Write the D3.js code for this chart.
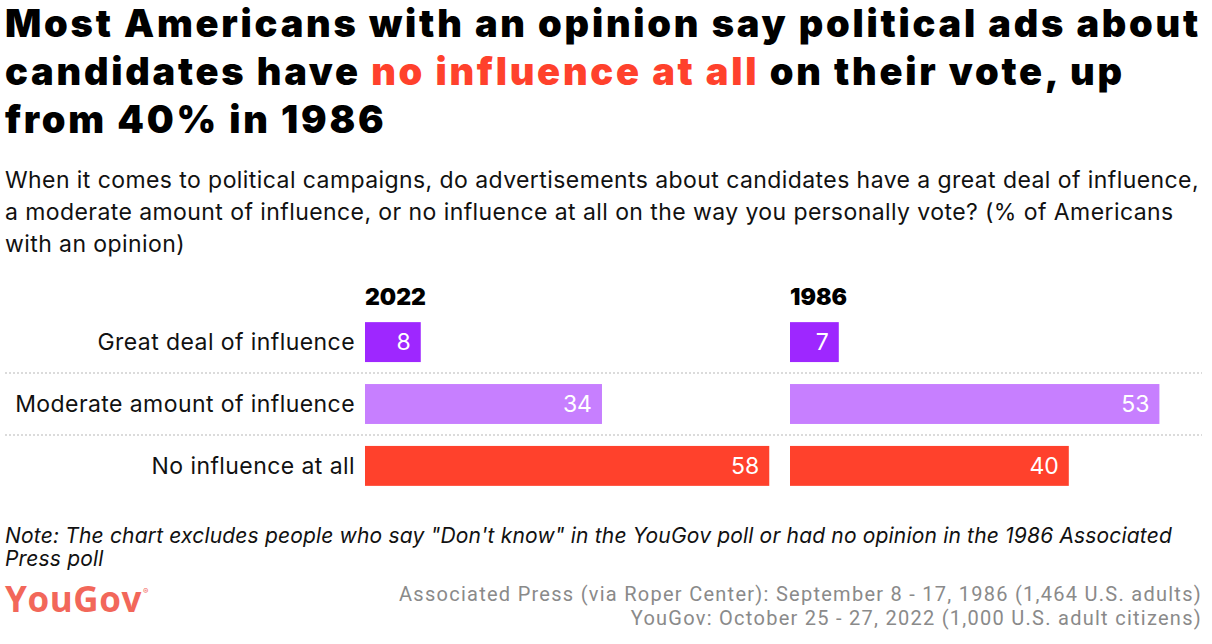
<!DOCTYPE html>
<html><head><meta charset="utf-8">
<script src="https://cdn.jsdelivr.net/npm/d3@7"></script>
<style>body{margin:0;background:#fff}</style>
</head><body>
<svg id="c" width="1212" height="644"></svg>
<script>
const categories = ["Great deal of influence", "Moderate amount of influence", "No influence at all"];
const panels = ["2022", "1986"];
const values2022 = [8, 34, 58];
const values1986 = [7, 53, 40];
const colors = ["#9e27ff", "#c77fff", "#ff412c"];

const svg = d3.select("#c");
const F = "Inter, 'Noto Sans', sans-serif";

// set letter-spacing so that a text element spans a target width
function fitSpacing(sel, target) {
  const node = sel.node();
  const w = node.getComputedTextLength();
  const n = node.textContent.length;
  const ls = (target - w) / Math.max(1, n);
  sel.attr("letter-spacing", ls);
  return ls;
}

// Title
const title = svg.append("g").attr("font-family", F).attr("font-weight", 900).attr("font-size", 38).attr("fill", "#000");
const t1 = title.append("text").attr("x", 5).attr("y", 37).text("Most Americans with an opinion say political ads about");
const t2 = title.append("text").attr("x", 5).attr("y", 85);
t2.append("tspan").text("candidates have ");
t2.append("tspan").attr("fill", "#ff412c").text("no influence at all");
t2.append("tspan").text(" on their vote, up");
const t3 = title.append("text").attr("x", 5).attr("y", 133).text("from 40% in 1986");
const tls = fitSpacing(t1, 1196);
t2.attr("letter-spacing", tls); t3.attr("letter-spacing", tls);

// Subtitle
const sub = svg.append("g").attr("font-family", F).attr("font-size", 23).attr("fill", "#111");
const subs = ["When it comes to political campaigns, do advertisements about candidates have a great deal of influence,",
 "a moderate amount of influence, or no influence at all on the way you personally vote? (% of Americans",
 "with an opinion)"].map((s, i) => sub.append("text").attr("x", 5).attr("y", 188 + i * 32).text(s));
const sls = fitSpacing(subs[0], 1194);
subs.slice(1).forEach(s => s.attr("letter-spacing", sls));

// Chart
const y = d3.scaleBand().domain(categories).range([311, 497]).paddingInner(0.355).paddingOuter(0.18);
const panelX = d3.scaleOrdinal().domain(panels).range([365, 790]);
const x = d3.scaleLinear().domain([0, 100]).range([0, 697]);
const data = {"2022": values2022, "1986": values1986};

// separators
categories.slice(1).forEach(c => {
  const yy = y(c) - y.step() * y.paddingInner() / 2;
  svg.append("line").attr("x1", 5).attr("x2", 1202).attr("y1", yy).attr("y2", yy)
    .attr("stroke", "#cfcfcf").attr("stroke-width", 1.5).attr("stroke-dasharray", "2,2");
});

// category labels
svg.append("g").attr("font-family", F).attr("font-size", 23).attr("fill", "#111").attr("text-anchor", "end")
  .attr("letter-spacing", sls)
  .selectAll("text").data(categories).join("text")
  .attr("x", 355).attr("y", d => y(d) + y.bandwidth() / 2).attr("dy", "0.36em").text(d => d);

panels.forEach(p => {
  const g = svg.append("g").attr("transform", `translate(${panelX(p)},0)`);
  g.append("text").attr("x", 0).attr("y", 305).attr("font-family", F).attr("font-weight", 900)
    .attr("font-size", 23).attr("fill", "#000").text(p);
  const vals = data[p];
  g.selectAll("rect").data(categories).join("rect")
    .attr("x", 0).attr("y", d => y(d)).attr("height", y.bandwidth())
    .attr("width", (d, i) => x(vals[i])).attr("fill", (d, i) => colors[i]);
  g.selectAll("text.v").data(categories).join("text").attr("class", "v")
    .attr("x", (d, i) => x(vals[i]) - 10).attr("y", d => y(d) + y.bandwidth() / 2).attr("dy", "0.36em")
    .attr("text-anchor", "end").attr("font-family", F).attr("font-size", 23).attr("fill", "#fff")
    .text((d, i) => vals[i]);
});

// Note
const note = svg.append("g").attr("font-family", F).attr("font-style", "italic").attr("font-size", 21).attr("fill", "#111");
const n1 = note.append("text").attr("x", 5).attr("y", 543).text("Note: The chart excludes people who say \"Don't know\" in the YouGov poll or had no opinion in the 1986 Associated");
const n2 = note.append("text").attr("x", 5).attr("y", 566).text("Press poll");
const nls = fitSpacing(n1, 1167);
n2.attr("letter-spacing", nls);

// Logo
const logo = svg.append("text").attr("x", 5).attr("y", 612).attr("font-family", "'Open Sans', sans-serif").attr("font-weight", 700)
  .attr("font-size", 35).attr("fill", "#f2675a").text("YouGov");
fitSpacing(logo, 137);
const logoEnd = 5 + logo.node().getBBox().width;
svg.append("text").attr("x", logoEnd + 1).attr("y", 594).attr("font-family", F).attr("font-size", 8).attr("fill", "#f2675a").text("®");

// Sources
const src = svg.append("g").attr("font-family", "Roboto, sans-serif").attr("font-size", 20).attr("fill", "#8a8a8a").attr("text-anchor", "end");
const s1 = src.append("text").attr("x", 1202).attr("y", 601).text("Associated Press (via Roper Center): September 8 - 17, 1986 (1,464 U.S. adults)");
const s2 = src.append("text").attr("x", 1202).attr("y", 625).text("YouGov: October 25 - 27, 2022 (1,000 U.S. adult citizens)");
const srcls = fitSpacing(s1, 803);
s2.attr("letter-spacing", srcls);
</script>
</body></html>
